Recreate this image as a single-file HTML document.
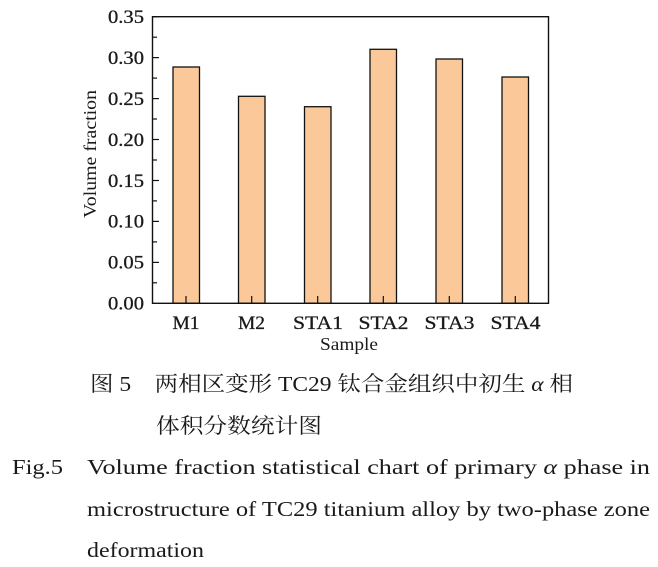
<!DOCTYPE html>
<html><head><meta charset="utf-8"><style>
html,body{margin:0;padding:0;background:#fff;}
svg{display:block;}
text{font-family:"Liberation Serif","Noto Serif CJK SC",serif;fill:#1a1a1a;}
</style></head><body>
<svg width="658" height="567" viewBox="0 0 658 567" xmlns="http://www.w3.org/2000/svg">
<g fill="#fbc999" stroke="#111" stroke-width="1.3">
<rect x="173" y="67" width="26.5" height="236.3"/>
<rect x="238.5" y="96.3" width="26.5" height="207"/>
<rect x="304.5" y="106.7" width="26.5" height="196.6"/>
<rect x="370" y="49.3" width="26.5" height="254"/>
<rect x="436" y="59" width="26.5" height="244.3"/>
<rect x="502" y="77" width="26.5" height="226.3"/>
</g>
<rect x="152.5" y="16.7" width="396" height="286.6" fill="none" stroke="#111" stroke-width="1.4"/>
<g stroke="#111" stroke-width="1.2">
<line x1="152.5" y1="16.7" x2="159" y2="16.7"/>
<line x1="152.5" y1="37.2" x2="157" y2="37.2"/>
<line x1="152.5" y1="57.6" x2="159" y2="57.6"/>
<line x1="152.5" y1="78.1" x2="157" y2="78.1"/>
<line x1="152.5" y1="98.6" x2="159" y2="98.6"/>
<line x1="152.5" y1="119.0" x2="157" y2="119.0"/>
<line x1="152.5" y1="139.5" x2="159" y2="139.5"/>
<line x1="152.5" y1="160.0" x2="157" y2="160.0"/>
<line x1="152.5" y1="180.5" x2="159" y2="180.5"/>
<line x1="152.5" y1="200.9" x2="157" y2="200.9"/>
<line x1="152.5" y1="221.4" x2="159" y2="221.4"/>
<line x1="152.5" y1="241.9" x2="157" y2="241.9"/>
<line x1="152.5" y1="262.4" x2="159" y2="262.4"/>
<line x1="152.5" y1="282.8" x2="157" y2="282.8"/>
<line x1="186" y1="303.3" x2="186" y2="296"/>
<line x1="251.7" y1="303.3" x2="251.7" y2="296"/>
<line x1="317.7" y1="303.3" x2="317.7" y2="296"/>
<line x1="383.3" y1="303.3" x2="383.3" y2="296"/>
<line x1="449.3" y1="303.3" x2="449.3" y2="296"/>
<line x1="515.3" y1="303.3" x2="515.3" y2="296"/>
</g>
<g font-size="19" stroke="#1a1a1a" stroke-width="0.3">
<text x="108" y="23" textLength="36" lengthAdjust="spacingAndGlyphs">0.35</text>
<text x="108" y="64" textLength="36" lengthAdjust="spacingAndGlyphs">0.30</text>
<text x="108" y="105" textLength="36" lengthAdjust="spacingAndGlyphs">0.25</text>
<text x="108" y="146" textLength="36" lengthAdjust="spacingAndGlyphs">0.20</text>
<text x="108" y="186.8" textLength="36" lengthAdjust="spacingAndGlyphs">0.15</text>
<text x="108" y="227.7" textLength="36" lengthAdjust="spacingAndGlyphs">0.10</text>
<text x="108" y="268.7" textLength="36" lengthAdjust="spacingAndGlyphs">0.05</text>
<text x="108" y="309.6" textLength="36" lengthAdjust="spacingAndGlyphs">0.00</text>
<text x="172.5" y="329" textLength="27" lengthAdjust="spacingAndGlyphs">M1</text>
<text x="238" y="329" textLength="27" lengthAdjust="spacingAndGlyphs">M2</text>
<text x="293" y="329" textLength="50" lengthAdjust="spacingAndGlyphs">STA1</text>
<text x="358.5" y="329" textLength="50" lengthAdjust="spacingAndGlyphs">STA2</text>
<text x="424.5" y="329" textLength="50" lengthAdjust="spacingAndGlyphs">STA3</text>
<text x="490.5" y="329" textLength="50" lengthAdjust="spacingAndGlyphs">STA4</text>
</g>
<g font-size="18">
<text x="320" y="350" textLength="58" lengthAdjust="spacingAndGlyphs">Sample</text>
<text transform="translate(96,218) rotate(-90)" textLength="128" lengthAdjust="spacingAndGlyphs">Volume fraction</text>
</g>
<g font-size="21">
<text x="90" y="391" textLength="483" lengthAdjust="spacingAndGlyphs">图 5　两相区变形 TC29 钛合金组织中初生 <tspan font-style="italic">α</tspan> 相</text>
<text x="156" y="433" textLength="166" lengthAdjust="spacingAndGlyphs">体积分数统计图</text>
<text x="12" y="474" textLength="51" lengthAdjust="spacingAndGlyphs">Fig.5</text>
<text x="87" y="474" textLength="563" lengthAdjust="spacingAndGlyphs">Volume fraction statistical chart of primary <tspan font-style="italic">α</tspan> phase in</text>
<text x="87" y="516" textLength="563" lengthAdjust="spacingAndGlyphs">microstructure of TC29 titanium alloy by two-phase zone</text>
<text x="87" y="557" textLength="117" lengthAdjust="spacingAndGlyphs">deformation</text>
</g>
</svg>
</body></html>
